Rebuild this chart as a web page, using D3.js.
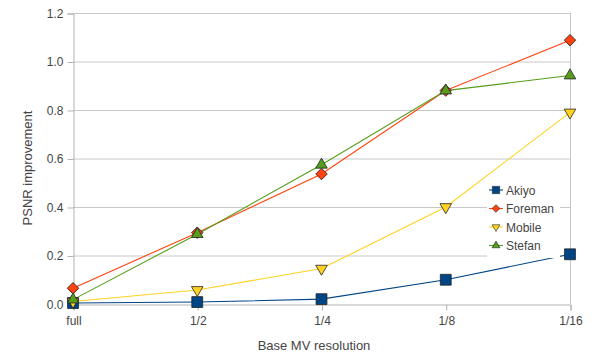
<!DOCTYPE html>
<html>
<head>
<meta charset="utf-8">
<script src="https://cdn.jsdelivr.net/npm/d3@7"></script>
<style>
  html, body { margin: 0; padding: 0; background: #fff; }
  svg { display: block; font-family: "Liberation Sans", Arial, sans-serif; }
</style>
</head>
<body>
<svg id="chart" width="595" height="356"></svg>
<script>
// Base MV resolution levels along the x axis
const categories = ["full", "1/2", "1/4", "1/8", "1/16"];

// PSNR improvement per sequence
const akiyo   = [0.004, 0.008, 0.02, 0.10, 0.205];
const foreman = [0.065, 0.294, 0.536, 0.88, 1.088];
const mobile  = [0.01, 0.058, 0.146, 0.40, 0.79];
const stefan  = [0.018, 0.288, 0.574, 0.88, 0.942];

const yTicks = [0, 0.2, 0.4, 0.6, 0.8, 1.0, 1.2];

const seriesNames = ["Akiyo", "Foreman", "Mobile", "Stefan"];
const seriesValues = [akiyo, foreman, mobile, stefan];
const seriesColors = ["#004586", "#ff420e", "#ffd320", "#579d1c"];
// marker shape, area and rotation for each series
const seriesSymbols = [d3.symbolSquare, d3.symbolSquare, d3.symbolTriangle, d3.symbolTriangle];
const symbolSizes = [118, 66, 58, 58];
const symbolRotate = ["", "rotate(45)", "rotate(180)", ""];

const svg = d3.select("#chart");
const plotLeft = 73, plotRight = 570, plotTop = 13, plotBottom = 304;

const x = d3.scalePoint().domain(categories).range([plotLeft, plotRight]);
const y = d3.scaleLinear().domain([0, 1.2]).range([plotBottom, plotTop]);

// horizontal grid
svg.append("g")
  .selectAll("line")
  .data(yTicks.filter(t => t > 0))
  .join("line")
  .attr("x1", plotLeft).attr("x2", plotRight)
  .attr("y1", d => y(d) + 0.5).attr("y2", d => y(d) + 0.5)
  .attr("stroke", "#c8c8c8").attr("stroke-width", 1);

// right border
svg.append("line")
  .attr("x1", plotRight + 0.5).attr("x2", plotRight + 0.5)
  .attr("y1", plotTop).attr("y2", plotBottom)
  .attr("stroke", "#c8c8c8");

// y axis
const yAxis = svg.append("g")
  .attr("transform", `translate(${plotLeft + 0.5},0.5)`)
  .call(d3.axisLeft(y).tickValues(yTicks).tickFormat(d3.format(".1f")).tickSize(6).tickPadding(4));
yAxis.select(".domain").attr("stroke", "#b3b3b3");
yAxis.selectAll(".tick line").attr("stroke", "#b3b3b3");
yAxis.selectAll("text").attr("fill", "#444").style("font-size", "12px")
  .style("font-family", "'Liberation Sans', Arial, sans-serif");

// x axis
const xAxis = svg.append("g")
  .attr("transform", `translate(0.5,${plotBottom + 0.5})`)
  .call(d3.axisBottom(x).tickSize(6).tickPadding(6));
xAxis.select(".domain").attr("stroke", "#b3b3b3");
xAxis.selectAll(".tick line").attr("stroke", "#b3b3b3");
xAxis.selectAll("text").attr("fill", "#444").style("font-size", "12px")
  .style("font-family", "'Liberation Sans', Arial, sans-serif");

// axis titles
svg.append("text")
  .attr("x", 314).attr("y", 350)
  .attr("text-anchor", "middle")
  .attr("fill", "#444").style("font-size", "13px")
  .text("Base MV resolution");

svg.append("text")
  .attr("transform", "translate(32,168) rotate(-90)")
  .attr("text-anchor", "middle")
  .attr("fill", "#444").style("font-size", "13px")
  .text("PSNR improvement");

const symbolPath = (s, size) => d3.symbol().type(seriesSymbols[s]).size(size)();

// lines and markers
const line = d3.line().x((d, i) => x(categories[i])).y(d => y(d));
seriesValues.forEach((vals, s) => {
  svg.append("path")
    .datum(vals)
    .attr("d", line)
    .attr("fill", "none")
    .attr("stroke", seriesColors[s])
    .attr("stroke-width", 1.1);
});
seriesValues.forEach((vals, s) => {
  svg.append("g").selectAll("path")
    .data(vals)
    .join("path")
    .attr("transform", (d, i) => `translate(${x(categories[i])},${y(d)}) ${symbolRotate[s]}`)
    .attr("d", symbolPath(s, symbolSizes[s]))
    .attr("fill", seriesColors[s])
    .attr("stroke", "#222")
    .attr("stroke-width", 0.8);
});

// legend
const legend = svg.append("g");
legend.append("rect")
  .attr("x", 487).attr("y", 178).attr("width", 73).attr("height", 80)
  .attr("fill", "#fff");
seriesNames.forEach((name, s) => {
  const ly = 190 + s * 18.5;
  legend.append("line")
    .attr("x1", 489).attr("x2", 503).attr("y1", ly).attr("y2", ly)
    .attr("stroke", seriesColors[s]).attr("stroke-width", 1.1);
  legend.append("path")
    .attr("transform", `translate(496,${ly}) ${symbolRotate[s]}`)
    .attr("d", symbolPath(s, symbolSizes[s] * 0.45))
    .attr("fill", seriesColors[s])
    .attr("stroke", "#222").attr("stroke-width", 0.6);
  legend.append("text")
    .attr("x", 506).attr("y", ly + 4.5)
    .attr("fill", "#444").style("font-size", "12px")
    .text(name);
});
</script>
</body>
</html>
